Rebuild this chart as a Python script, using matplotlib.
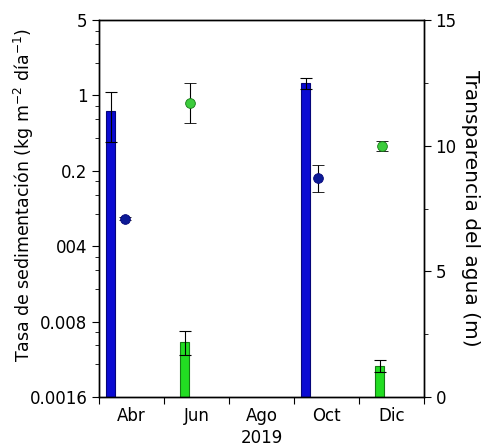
import numpy as np
import matplotlib
matplotlib.use('Agg')
import matplotlib.pyplot as plt
from matplotlib.ticker import FixedLocator, NullFormatter, LogLocator

# data
months = ['Abr', 'Jun', 'Ago', 'Oct', 'Dic']
year = '2019'
sed = [0.72, 0.0052, np.nan, 1.31, 0.0031]          # kg m-2 dia-1
sed_err = [0.35, 0.0013, np.nan, 0.15, 0.0004]
transp = [7.1, 11.7, np.nan, 8.7, 10.0]             # m
transp_err = [0.05, 0.8, np.nan, 0.55, 0.2]
sed_ticks = [5, 1, 0.2, 0.04, 0.008, 0.0016]
sed_ticklabels = ['5', '1', '0.2', '004', '0.008', '0.0016']
transp_ticks = [0, 5, 10, 15]

# styles / layout
bar_off = [0.18, 0.32, 0.0, 0.18, 0.32]
dot_off = [0.40, 0.40, 0.0, 0.37, 0.35]
fill = ['#0a0ad2', '#22dd22', 'none', '#0a0ad2', '#22dd22']
edge = ['#05057a', '#157a15', 'none', '#05057a', '#157a15']
dot_fill = ['#0c1a96', '#3ccc3c', 'none', '#0c1a96', '#3ccc3c']

plt.rcParams['font.family'] = 'DejaVu Sans'
plt.rcParams['font.size'] = 12

fig = plt.figure(figsize=(4.86, 4.47), dpi=100)
ax = fig.add_axes([0.204, 0.112, 0.668, 0.843])

idx = np.arange(len(months))
for i in idx:
    if np.isnan(sed[i]):
        continue
    x = i + bar_off[i]
    ax.bar(x, sed[i], width=0.14, color=fill[i], edgecolor=edge[i], lw=0.8, zorder=2)
    ax.errorbar(x, sed[i], yerr=sed_err[i], fmt='none', ecolor='black',
                elinewidth=0.8, capsize=4, capthick=0.8, zorder=3)

ax.set_yscale('log', base=5)
ax.set_ylim(0.0016, 5)
ax.set_yticks(sed_ticks)
ax.set_yticklabels(sed_ticklabels)
ax.yaxis.set_minor_locator(LogLocator(base=5, subs=(2, 3, 4)))
ax.yaxis.set_minor_formatter(NullFormatter())
ax.set_ylabel('Tasa de sedimentación (kg m$^{-2}$ día$^{-1}$)', fontsize=12.5, labelpad=-5)
ax.yaxis.label.set_y(0.535)

ax.set_xlim(0, 5)
ax.xaxis.set_major_locator(FixedLocator(np.arange(0, 6)))
ax.xaxis.set_major_formatter(NullFormatter())
ax.set_xticks(idx + 0.5, minor=True)
ax.set_xticklabels(months, minor=True)
ax.tick_params(axis='x', which='minor', length=0, pad=7)
ax.set_xlabel(year, fontsize=12, labelpad=3)

ax2 = ax.twinx()
for i in idx:
    if np.isnan(transp[i]):
        continue
    ax2.errorbar(i + dot_off[i], transp[i], yerr=transp_err[i], fmt='o', ms=7,
                 mfc=dot_fill[i], mec=edge[i], mew=0.6, ecolor='black',
                 elinewidth=0.8, capsize=4, capthick=0.8, zorder=3)
ax2.set_ylim(0, 15)
ax2.set_yticks(transp_ticks)
ax2.set_yticks(np.arange(2.5, 15, 5), minor=True)
ax2.set_ylabel('Transparencia del agua (m)', rotation=270, fontsize=14.5, labelpad=17)

for a in (ax, ax2):
    for s in a.spines.values():
        s.set_linewidth(1.0)
    a.tick_params(which='major', length=5, width=0.8)
    a.tick_params(which='minor', length=3, width=0.6)
ax.tick_params(axis='x', which='minor', length=0)

fig.savefig('out.png', dpi=100)
